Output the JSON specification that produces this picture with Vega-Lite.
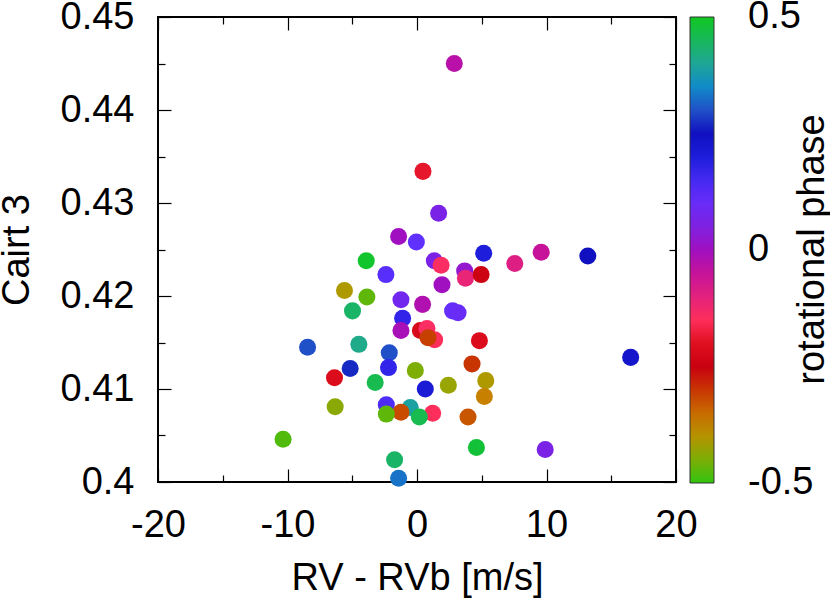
{
  "$schema": "https://vega.github.io/schema/vega-lite/v6.json",
  "autosize": {"type": "none"},
  "padding": {"left": 158, "top": 17, "right": 154, "bottom": 125},
  "width": 518,
  "height": 465,
  "config": {
    "font": "Liberation Sans",
    "view": {"stroke": "black", "strokeWidth": 2},
    "axis": {"domain": false, "grid": false, "labelFont": "Liberation Sans", "titleFont": "Liberation Sans", "labelColor": "black", "titleColor": "black", "tickColor": "black", "tickWidth": 1.2, "labelFontSize": 38, "titleFontSize": 38, "titleFontWeight": "normal", "labelFlush": false, "labelOverlap": false}
  },
  "data": {"values": [
    {"dRV": 2.88, "cairt": 0.4450, "phase": -0.03},
    {"dRV": 0.46, "cairt": 0.4334, "phase": -0.19},
    {"dRV": 1.67, "cairt": 0.4289, "phase": 0.06},
    {"dRV": -1.42, "cairt": 0.4264, "phase": 0.0},
    {"dRV": -0.05, "cairt": 0.4258, "phase": 0.12},
    {"dRV": -3.92, "cairt": 0.4238, "phase": 0.49},
    {"dRV": 5.15, "cairt": 0.4246, "phase": 0.2},
    {"dRV": 9.59, "cairt": 0.4247, "phase": -0.05},
    {"dRV": 7.55, "cairt": 0.4235, "phase": -0.09},
    {"dRV": 1.34, "cairt": 0.4238, "phase": 0.06},
    {"dRV": 1.86, "cairt": 0.4233, "phase": -0.14},
    {"dRV": 3.68, "cairt": 0.4227, "phase": 0.02},
    {"dRV": 3.74, "cairt": 0.4219, "phase": -0.11},
    {"dRV": 4.95, "cairt": 0.4223, "phase": -0.24},
    {"dRV": 1.93, "cairt": 0.4212, "phase": 0.0},
    {"dRV": -2.40, "cairt": 0.4223, "phase": 0.13},
    {"dRV": -5.60, "cairt": 0.4206, "phase": -0.41},
    {"dRV": -3.87, "cairt": 0.4199, "phase": -0.47},
    {"dRV": -4.98, "cairt": 0.4184, "phase": 0.44},
    {"dRV": -1.24, "cairt": 0.4196, "phase": 0.08},
    {"dRV": 0.43, "cairt": 0.4191, "phase": -0.02},
    {"dRV": 2.75, "cairt": 0.4184, "phase": 0.11},
    {"dRV": 3.17, "cairt": 0.4182, "phase": 0.10},
    {"dRV": -1.11, "cairt": 0.4176, "phase": 0.17},
    {"dRV": -1.24, "cairt": 0.4163, "phase": -0.01},
    {"dRV": 0.26, "cairt": 0.4163, "phase": -0.22},
    {"dRV": 0.77, "cairt": 0.4165, "phase": -0.14},
    {"dRV": 1.36, "cairt": 0.4153, "phase": -0.15},
    {"dRV": 0.85, "cairt": 0.4155, "phase": -0.31},
    {"dRV": 4.82, "cairt": 0.4152, "phase": -0.21},
    {"dRV": -8.45, "cairt": 0.4145, "phase": 0.30},
    {"dRV": -4.49, "cairt": 0.4148, "phase": 0.41},
    {"dRV": -2.14, "cairt": 0.4139, "phase": 0.30},
    {"dRV": -5.16, "cairt": 0.4122, "phase": 0.27},
    {"dRV": -2.20, "cairt": 0.4123, "phase": 0.17},
    {"dRV": -6.37, "cairt": 0.4112, "phase": -0.21},
    {"dRV": -3.23, "cairt": 0.4107, "phase": 0.46},
    {"dRV": -0.13, "cairt": 0.4120, "phase": -0.45},
    {"dRV": 4.25, "cairt": 0.4127, "phase": -0.30},
    {"dRV": 5.31, "cairt": 0.4109, "phase": -0.41},
    {"dRV": 0.64, "cairt": 0.4100, "phase": 0.21},
    {"dRV": 2.42, "cairt": 0.4104, "phase": -0.43},
    {"dRV": 5.20, "cairt": 0.4092, "phase": -0.37},
    {"dRV": -6.32, "cairt": 0.4081, "phase": -0.44},
    {"dRV": -2.37, "cairt": 0.4083, "phase": 0.14},
    {"dRV": -0.52, "cairt": 0.4080, "phase": 0.39},
    {"dRV": -1.24, "cairt": 0.4075, "phase": -0.32},
    {"dRV": 1.21, "cairt": 0.4074, "phase": -0.15},
    {"dRV": -2.37, "cairt": 0.4073, "phase": -0.47},
    {"dRV": 0.18, "cairt": 0.4070, "phase": 0.46},
    {"dRV": 3.94, "cairt": 0.4070, "phase": -0.33},
    {"dRV": -10.34, "cairt": 0.4046, "phase": -0.48},
    {"dRV": 4.59, "cairt": 0.4037, "phase": 0.48},
    {"dRV": 9.90, "cairt": 0.4035, "phase": 0.06},
    {"dRV": -1.73, "cairt": 0.4024, "phase": 0.44},
    {"dRV": -1.42, "cairt": 0.4004, "phase": 0.33},
    {"dRV": 16.5, "cairt": 0.4134, "phase": 0.23},
    {"dRV": 13.19, "cairt": 0.4243, "phase": 0.25}
  ]},
  "layer": [
    {
      "mark": {"type": "circle", "size": 290, "opacity": 1},
      "encoding": {
        "x": {"field": "dRV", "type": "quantitative", "scale": {"domain": [-20, 20], "nice": false, "zero": false},
          "axis": {"orient": "bottom", "title": "RV - RVb [m/s]", "values": [-20, -10, 0, 10, 20],
            "labelExpr": "'' + datum.value", "tickSize": -13, "labelPadding": 37, "titlePadding": 15}},
        "y": {"field": "cairt", "type": "quantitative", "scale": {"domain": [0.4, 0.45], "nice": false, "zero": false},
          "axis": {"orient": "left", "title": "Cairt 3", "values": [0.4, 0.41, 0.42, 0.43, 0.44, 0.45],
            "labelExpr": "'' + round(datum.value*100)/100", "tickSize": -13, "labelPadding": 37, "titlePadding": 24}},
        "color": {"field": "phase", "type": "quantitative",
          "scale": {"domain": [-0.5, -0.42, -0.37, -0.31, -0.25, -0.2, -0.146, -0.095, -0.04, 0.0, 0.047, 0.12, 0.19, 0.25, 0.30, 0.355, 0.405, 0.5],
            "range": ["#33c410", "#a8a000", "#c88000", "#c84000", "#c80010", "#e01020", "#ff3060", "#e02080", "#c010a0", "#a010c0", "#8020e0", "#6030ff", "#2020e0", "#1010c0", "#2050c8", "#1090c8", "#20a890", "#10c820"],
            "interpolate": "rgb"},
          "legend": {"orient": "none", "legendX": 532, "legendY": 0, "padding": 0, "direction": "vertical", "type": "gradient",
            "gradientLength": 466, "gradientThickness": 24, "gradientStrokeColor": "#333", "gradientStrokeWidth": 1,
            "values": [-0.4999, 0, 0.4999], "labelExpr": "'' + round(datum.value*10)/10", "labelFontSize": 38, "labelFont": "Liberation Sans", "labelColor": "black",
            "labelOffset": 34, "labelOverlap": false, "title": null}}
      }
    },
    {
      "mark": {"type": "circle", "opacity": 0},
      "encoding": {
        "x": {"field": "dRV", "type": "quantitative",
          "axis": {"orient": "top", "title": null, "labels": false, "values": [-20, -10, 0, 10, 20], "tickSize": -13}},
        "y": {"field": "cairt", "type": "quantitative",
          "axis": {"orient": "right", "title": "rotational phase", "labels": false, "values": [0.4, 0.41, 0.42, 0.43, 0.44, 0.45], "tickSize": -13,
            "titleAngle": -90, "titleX": 136, "titleY": 232, "titleAlign": "center", "titleBaseline": "middle"}}
      }
    },
    {
      "mark": {"type": "circle", "opacity": 0},
      "encoding": {
        "x": {"field": "dRV", "type": "quantitative",
          "axis": {"orient": "bottom", "title": null, "labels": false, "values": [-15, -5, 5, 15], "tickSize": -7}},
        "y": {"field": "cairt", "type": "quantitative",
          "axis": {"orient": "left", "title": null, "labels": false, "values": [0.405, 0.415, 0.425, 0.435, 0.445], "tickSize": -7}}
      }
    },
    {
      "mark": {"type": "circle", "opacity": 0},
      "encoding": {
        "x": {"field": "dRV", "type": "quantitative",
          "axis": {"orient": "top", "title": null, "labels": false, "values": [-15, -5, 5, 15], "tickSize": -7}},
        "y": {"field": "cairt", "type": "quantitative",
          "axis": {"orient": "right", "title": null, "labels": false, "values": [0.405, 0.415, 0.425, 0.435, 0.445], "tickSize": -7}}
      }
    }
  ],
  "resolve": {"axis": {"x": "independent", "y": "independent"}}
}
